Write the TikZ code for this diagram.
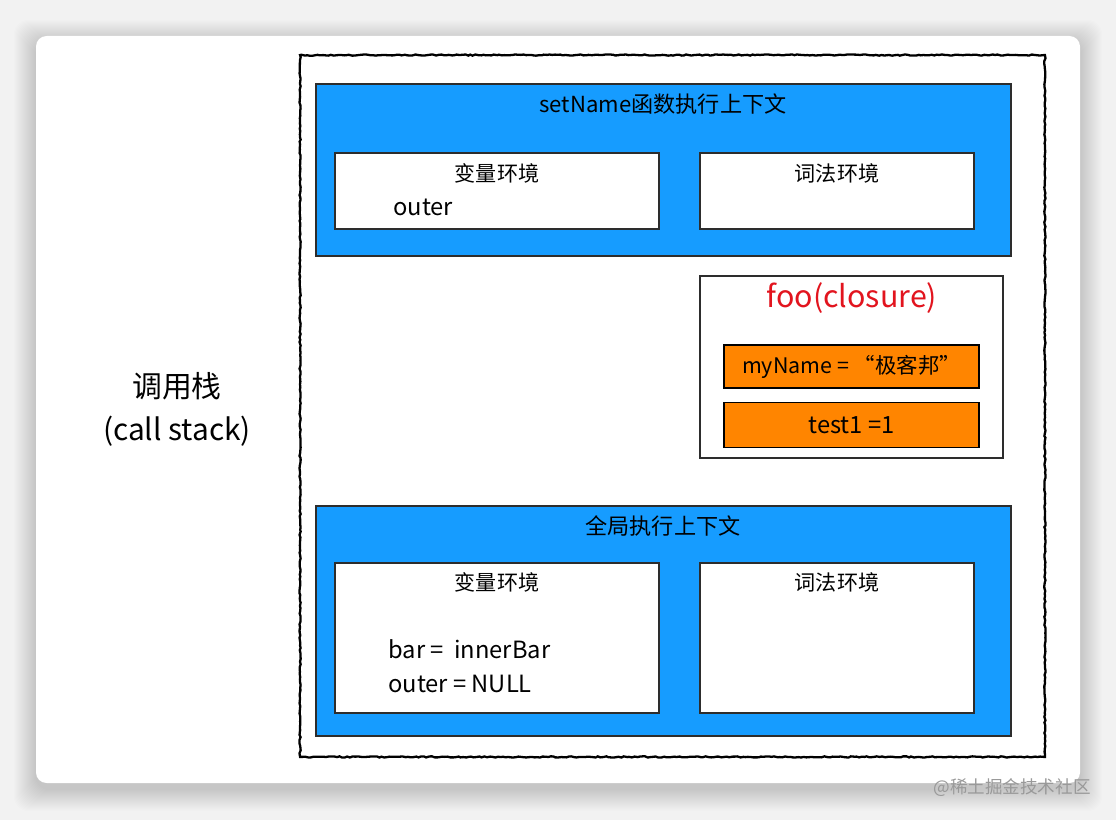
\documentclass[tikz,border=0pt]{standalone}
\usepackage{fontspec}
\usepackage{xcolor}
\usepackage{tikz}
\newfontfamily\cjk{Noto Sans CJK SC}
\usetikzlibrary{positioning,decorations.pathmorphing}
\definecolor{ctxblue}{RGB}{22,156,255}
\definecolor{varorange}{RGB}{255,133,0}
\definecolor{closred}{RGB}{226,20,30}
\definecolor{pagegray}{RGB}{242,242,242}
\definecolor{edgegray}{RGB}{45,45,45}

\begin{document}
\begin{tikzpicture}[x=0.02cm, y=-0.02cm, node distance=0.26cm, every node/.style={font=\cjk},
  ctxbox/.style={draw=edgegray, line width=0.8pt, fill=ctxblue, minimum width=13.9cm},
  envbox/.style={draw=edgegray, line width=0.8pt, fill=white},
  varbox/.style={draw=black, line width=0.8pt, fill=varorange, minimum width=5.1cm},
  boxtitle/.style={font=\cjk\fontsize{12}{14}\selectfont},
  vartext/.style={font=\cjk\fontsize{13.5}{19.5}\selectfont, align=left, anchor=west, inner sep=0pt}]
\useasboundingbox (0,0) rectangle (1116,820);
\fill[pagegray] (0,0) rectangle (1116,820);
% soft shadow round the card
\foreach \d in {1,2,...,22}
  \fill[black, opacity=0.006, rounded corners=8pt] (36-\d,36-\d+6) rectangle (1080+\d,783+\d+6);
\fill[white, rounded corners=6pt] (36,36) rectangle (1080,783);

\node[font=\cjk\fontsize{17}{24.5}\selectfont, align=center] (callstack) at (177,409) {调用栈\\(call stack)};
\node[draw, line width=1.3pt, decorate, decoration={random steps, segment length=1.5pt, amplitude=0.35pt},
  minimum width=14.9cm, minimum height=14.04cm] (stack) at (672.5,406) {};

% setName context
\node[ctxbox, minimum height=3.44cm] (setctx) at (663.5,170) {};
\node[boxtitle, font=\cjk\fontsize{12.6}{14}\selectfont] (settitle) at (663,104) {setName函数执行上下文};
\node[envbox, minimum width=6.48cm, minimum height=1.52cm] (setvar) at (497,191) {};
\node[envbox, minimum width=5.48cm, minimum height=1.52cm] (setlex) at (837,191) {};
\node[boxtitle] (setvartitle) at (497,173) {变量环境};
\node[boxtitle] (setlextitle) at (837,173) {词法环境};
\node[vartext] (setouter) at (393,207) {outer};

% closure
\node[draw=edgegray, line width=0.8pt, fill=white, minimum width=6.06cm, minimum height=3.64cm] (closure) at (851.5,367) {};
\node[font=\fontsize{17.3}{20}\selectfont\cjk, text=closred] (clostitle) at (852,298) {foo(closure)};
\node[varbox, minimum height=0.86cm, font=\cjk\fontsize{12.2}{15}\selectfont] (myname) at (851.5,366.5) {myName = “极客邦”};
\node[varbox, minimum height=0.9cm, font=\cjk\fontsize{13.5}{15}\selectfont, below=of myname] (test) {test1 =1};

% global context
\node[ctxbox, minimum height=4.6cm] (globctx) at (663.5,621) {};
\node[boxtitle, font=\cjk\fontsize{12.6}{14}\selectfont] (globtitle) at (663,526) {全局执行上下文};
\node[envbox, minimum width=6.48cm, minimum height=3.0cm] (globvar) at (497,638) {};
\node[envbox, minimum width=5.48cm, minimum height=3.0cm] (globlex) at (837,638) {};
\node[boxtitle] (globvartitle) at (497,582) {变量环境};
\node[boxtitle] (globlextitle) at (837,582) {词法环境};
\node[vartext] (globvars) at (388,666) {bar =~ innerBar\\outer = NULL};

\node[font=\cjk\fontsize{10}{12}\selectfont, text=black!40] (mark) at (1012,788) {@稀土掘金技术社区};
\end{tikzpicture}
\end{document}
